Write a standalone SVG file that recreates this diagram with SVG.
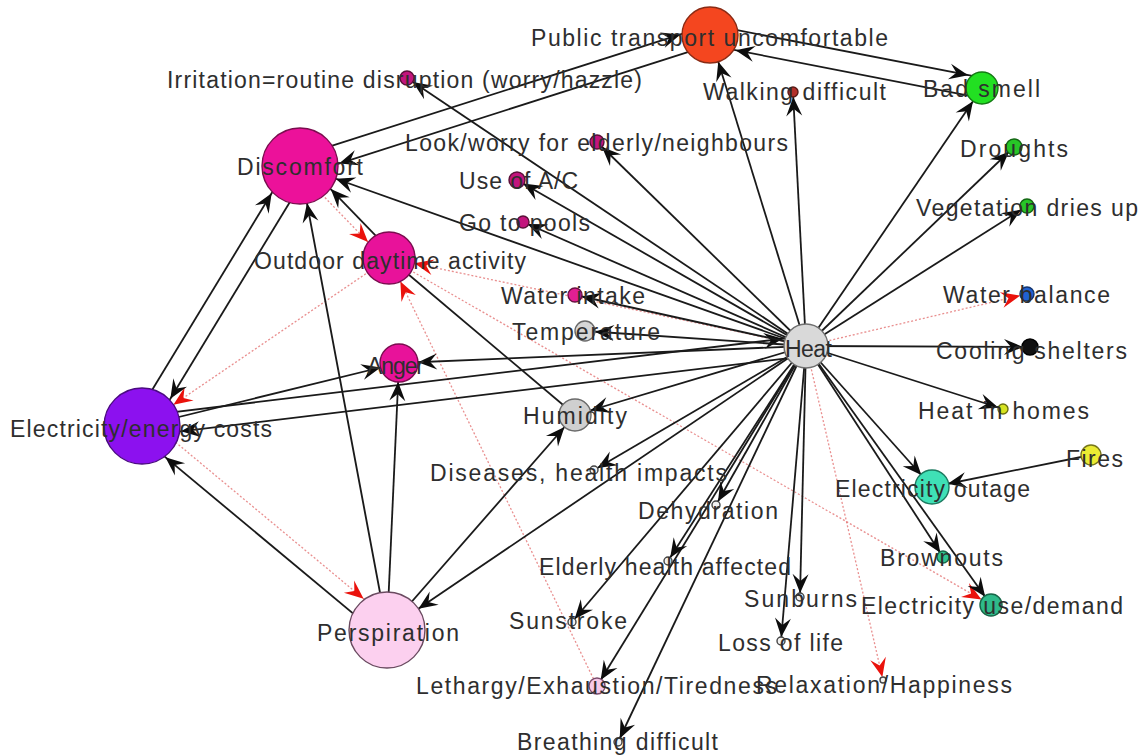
<svg xmlns="http://www.w3.org/2000/svg" width="1139" height="755" viewBox="0 0 1139 755">
<style>
  .e{stroke:#1a1a1a;stroke-width:1.8;fill:none}
  .r{stroke:#e06060;stroke-width:1.3;stroke-dasharray:2 2;fill:none;stroke-opacity:.7}
  .ak{fill:#0d0d0d}
  .ar{fill:#ea120c}
  .n{stroke-width:1.4}
  text{font-family:"Liberation Sans",Arial,sans-serif;font-size:23px;fill:#2e2e2e}
</style>
<defs>
  <!-- arrowheads: tip pulled back by the target node radius -->
  <marker id="k4" markerUnits="userSpaceOnUse" orient="auto" refX="0" refY="0" markerWidth="1" markerHeight="1" overflow="visible" style="overflow:visible"><path class="ak" d="M-4,0 l-19,-8 l7,8 l-7,8z"/></marker>
  <marker id="k5" markerUnits="userSpaceOnUse" orient="auto" refX="0" refY="0" markerWidth="1" markerHeight="1" overflow="visible" style="overflow:visible"><path class="ak" d="M-5,0 l-19,-8 l7,8 l-7,8z"/></marker>
  <marker id="k7" markerUnits="userSpaceOnUse" orient="auto" refX="0" refY="0" markerWidth="1" markerHeight="1" overflow="visible" style="overflow:visible"><path class="ak" d="M-7,0 l-19,-8 l7,8 l-7,8z"/></marker>
  <marker id="k10" markerUnits="userSpaceOnUse" orient="auto" refX="0" refY="0" markerWidth="1" markerHeight="1" overflow="visible" style="overflow:visible"><path class="ak" d="M-10,0 l-19,-8 l7,8 l-7,8z"/></marker>
  <marker id="k16" markerUnits="userSpaceOnUse" orient="auto" refX="0" refY="0" markerWidth="1" markerHeight="1" overflow="visible" style="overflow:visible"><path class="ak" d="M-16,0 l-19,-8 l7,8 l-7,8z"/></marker>
  <marker id="k19" markerUnits="userSpaceOnUse" orient="auto" refX="0" refY="0" markerWidth="1" markerHeight="1" overflow="visible" style="overflow:visible"><path class="ak" d="M-19,0 l-19,-8 l7,8 l-7,8z"/></marker>
  <marker id="k22" markerUnits="userSpaceOnUse" orient="auto" refX="0" refY="0" markerWidth="1" markerHeight="1" overflow="visible" style="overflow:visible"><path class="ak" d="M-22,0 l-19,-8 l7,8 l-7,8z"/></marker>
  <marker id="k28" markerUnits="userSpaceOnUse" orient="auto" refX="0" refY="0" markerWidth="1" markerHeight="1" overflow="visible" style="overflow:visible"><path class="ak" d="M-28,0 l-19,-8 l7,8 l-7,8z"/></marker>
  <marker id="k38" markerUnits="userSpaceOnUse" orient="auto" refX="0" refY="0" markerWidth="1" markerHeight="1" overflow="visible" style="overflow:visible"><path class="ak" d="M-38,0 l-19,-8 l7,8 l-7,8z"/></marker>
  <marker id="r3" markerUnits="userSpaceOnUse" orient="auto" refX="0" refY="0" markerWidth="1" markerHeight="1" overflow="visible" style="overflow:visible"><path class="ar" d="M-3,0 l-19,-8 l7,8 l-7,8z"/></marker>
  <marker id="r7" markerUnits="userSpaceOnUse" orient="auto" refX="0" refY="0" markerWidth="1" markerHeight="1" overflow="visible" style="overflow:visible"><path class="ar" d="M-7,0 l-19,-8 l7,8 l-7,8z"/></marker>
  <marker id="r11" markerUnits="userSpaceOnUse" orient="auto" refX="0" refY="0" markerWidth="1" markerHeight="1" overflow="visible" style="overflow:visible"><path class="ar" d="M-11,0 l-19,-8 l7,8 l-7,8z"/></marker>
  <marker id="r26" markerUnits="userSpaceOnUse" orient="auto" refX="0" refY="0" markerWidth="1" markerHeight="1" overflow="visible" style="overflow:visible"><path class="ar" d="M-26,0 l-19,-8 l7,8 l-7,8z"/></marker>
  <marker id="r38" markerUnits="userSpaceOnUse" orient="auto" refX="0" refY="0" markerWidth="1" markerHeight="1" overflow="visible" style="overflow:visible"><path class="ar" d="M-38,0 l-19,-8 l7,8 l-7,8z"/></marker>
</defs>
<rect width="1139" height="755" fill="#fff"/>

<g id="connectors">
  <!-- dotted red links -->
  <line class="r" x1="806" y1="346" x2="1027" y2="294" marker-end="url(#r7)"/>
  <line class="r" x1="806" y1="346" x2="389" y2="258" marker-end="url(#r26)"/>
  <line class="r" x1="806" y1="346" x2="883" y2="680" marker-end="url(#r3)"/>
  <line class="r" x1="389" y1="258" x2="991" y2="605" marker-end="url(#r11)"/>
  <line class="r" x1="389" y1="258" x2="142" y2="426" marker-end="url(#r38)"/>
  <line class="r" x1="597" y1="686" x2="389" y2="258" marker-end="url(#r26)"/>
  <line class="r" x1="147.8" y1="419.1" x2="392.8" y2="623.1" marker-end="url(#r38)"/>
  <line class="r" x1="297.1" y1="168.8" x2="386.1" y2="260.8" marker-end="url(#r26)"/>

  <!-- paired links drawn side by side -->
  <line class="e" x1="297.1" y1="156.9" x2="707.1" y2="25.9" marker-end="url(#k28)"/>
  <line class="e" x1="712.9" y1="44.1" x2="302.9" y2="175.1" marker-end="url(#k38)"/>
  <line class="e" x1="711.9" y1="25.2" x2="983.9" y2="78.2" marker-end="url(#k16)"/>
  <line class="e" x1="980.1" y1="97.8" x2="708.1" y2="44.8" marker-end="url(#k28)"/>
  <line class="e" x1="308.6" y1="171.2" x2="150.6" y2="431.2" marker-end="url(#k38)"/>
  <line class="e" x1="133.4" y1="420.8" x2="291.4" y2="160.8" marker-end="url(#k38)"/>
  <line class="e" x1="140.8" y1="416.1" x2="804.8" y2="336.1" marker-end="url(#k22)"/>
  <line class="e" x1="807.2" y1="355.9" x2="143.2" y2="435.9" marker-end="url(#k38)"/>
  <line class="e" x1="381.2" y1="636.9" x2="136.2" y2="432.9" marker-end="url(#k38)"/>
  <line class="e" x1="393.3" y1="253.8" x2="304.3" y2="161.8" marker-end="url(#k38)"/>

  <!-- links out of Heat -->
  <line class="e" x1="806" y1="346" x2="710" y2="35" marker-end="url(#k28)"/>
  <line class="e" x1="806" y1="346" x2="793" y2="92" marker-end="url(#k5)"/>
  <line class="e" x1="806" y1="346" x2="982" y2="88" marker-end="url(#k16)"/>
  <line class="e" x1="806" y1="346" x2="1014" y2="147" marker-end="url(#k7)"/>
  <line class="e" x1="806" y1="346" x2="1027" y2="206" marker-end="url(#k7)"/>
  <line class="e" x1="806" y1="346" x2="1030" y2="347" marker-end="url(#k7)"/>
  <line class="e" x1="806" y1="346" x2="1003" y2="409" marker-end="url(#k5)"/>
  <line class="e" x1="806" y1="346" x2="932" y2="487" marker-end="url(#k16)"/>
  <line class="e" x1="806" y1="346" x2="943" y2="557" marker-end="url(#k5)"/>
  <line class="e" x1="806" y1="346" x2="991" y2="605" marker-end="url(#k10)"/>
  <line class="e" x1="806" y1="346" x2="800" y2="597" marker-end="url(#k4)"/>
  <line class="e" x1="806" y1="346" x2="781" y2="641" marker-end="url(#k4)"/>
  <line class="e" x1="806" y1="346" x2="618" y2="742" marker-end="url(#k4)"/>
  <line class="e" x1="806" y1="346" x2="597" y2="686" marker-end="url(#k7)"/>
  <line class="e" x1="806" y1="346" x2="572" y2="622" marker-end="url(#k4)"/>
  <line class="e" x1="806" y1="346" x2="668" y2="561" marker-end="url(#k4)"/>
  <line class="e" x1="806" y1="346" x2="716" y2="505" marker-end="url(#k4)"/>
  <line class="e" x1="806" y1="346" x2="594" y2="470" marker-end="url(#k4)"/>
  <line class="e" x1="806" y1="346" x2="387" y2="630" marker-end="url(#k38)"/>
  <line class="e" x1="806" y1="346" x2="575" y2="415" marker-end="url(#k16)"/>
  <line class="e" x1="806" y1="346" x2="585" y2="331" marker-end="url(#k10)"/>
  <line class="e" x1="806" y1="346" x2="575" y2="295" marker-end="url(#k7)"/>
  <line class="e" x1="806" y1="346" x2="523" y2="222" marker-end="url(#k5)"/>
  <line class="e" x1="806" y1="346" x2="517" y2="180" marker-end="url(#k7)"/>
  <line class="e" x1="806" y1="346" x2="597" y2="142" marker-end="url(#k7)"/>
  <line class="e" x1="806" y1="346" x2="407" y2="78" marker-end="url(#k7)"/>
  <line class="e" x1="806" y1="346" x2="300" y2="166" marker-end="url(#k38)"/>
  <line class="e" x1="806" y1="346" x2="399" y2="363" marker-end="url(#k19)"/>

  <!-- remaining links -->
  <line class="e" x1="142" y1="426" x2="399" y2="363" marker-end="url(#k19)"/>
  <line class="e" x1="387" y1="630" x2="300" y2="166" marker-end="url(#k38)"/>
  <line class="e" x1="387" y1="630" x2="399" y2="363" marker-end="url(#k19)"/>
  <line class="e" x1="387" y1="630" x2="575" y2="415" marker-end="url(#k16)"/>
  <line class="e" x1="575" y1="415" x2="389" y2="258"/>
  <line class="e" x1="1091" y1="455" x2="932" y2="487" marker-end="url(#k16)"/>
</g>

<g id="n-public-transport"><circle class="n" cx="710" cy="35" r="28" fill="#f4461f" stroke="#8a2a14"/><text x="531" y="46" textLength="357" lengthAdjust="spacing">Public transport uncomfortable</text></g>
<g id="n-irritation"><circle class="n" cx="407" cy="78" r="7" fill="#c3147d" stroke="#5a1038"/><text x="167" y="88" textLength="475" lengthAdjust="spacing">Irritation=routine disruption (worry/hazzle)</text></g>
<g id="n-walking"><circle class="n" cx="793" cy="92" r="5" fill="#b3302a" stroke="#5a1a16"/><text x="703" y="100" textLength="183" lengthAdjust="spacing">Walking difficult</text></g>
<g id="n-bad-smell"><circle class="n" cx="982" cy="88" r="16" fill="#22e022" stroke="#137a13"/><text x="923" y="97" textLength="117" lengthAdjust="spacing">Bad smell</text></g>
<g id="n-droughts"><circle class="n" cx="1014" cy="147" r="8" fill="#27c627" stroke="#136613"/><text x="960" y="157" textLength="108" lengthAdjust="spacing">Droughts</text></g>
<g id="n-vegetation"><circle class="n" cx="1027" cy="206" r="7" fill="#27c627" stroke="#136613"/><text x="916" y="216" textLength="222" lengthAdjust="spacing">Vegetation dries up</text></g>
<g id="n-water-balance"><circle class="n" cx="1027" cy="294" r="7" fill="#2062d2" stroke="#12346e"/><text x="943" y="303" textLength="167" lengthAdjust="spacing">Water balance</text></g>
<g id="n-cooling"><circle class="n" cx="1030" cy="347" r="8" fill="#111" stroke="#000"/><text x="936" y="359" textLength="191" lengthAdjust="spacing">Cooling shelters</text></g>
<g id="n-heat-homes"><circle class="n" cx="1003" cy="409" r="5" fill="#d6e222" stroke="#6a7010"/><text x="918" y="419" textLength="171" lengthAdjust="spacing">Heat in homes</text></g>
<g id="n-fires"><circle class="n" cx="1091" cy="455" r="10" fill="#ebeb33" stroke="#77771a"/><text x="1066" y="467" textLength="57" lengthAdjust="spacing">Fires</text></g>
<g id="n-outage"><circle class="n" cx="932" cy="487" r="17" fill="#3fe0b6" stroke="#1d7a60"/><text x="835" y="497" textLength="195" lengthAdjust="spacing">Electricity outage</text></g>
<g id="n-brownouts"><circle class="n" cx="943" cy="557" r="6" fill="#2fc48f" stroke="#176648"/><text x="880" y="566" textLength="123" lengthAdjust="spacing">Brownouts</text></g>
<g id="n-elec-use"><circle class="n" cx="991" cy="605" r="11" fill="#2fba8a" stroke="#176648"/><text x="861" y="614" textLength="262" lengthAdjust="spacing">Electricity use/demand</text></g>
<g id="n-relaxation"><circle class="n" cx="883" cy="680" r="3" fill="#f2f2f2" stroke="#444"/><text x="756" y="693" textLength="256" lengthAdjust="spacing">Relaxation/Happiness</text></g>
<g id="n-loss-life"><circle class="n" cx="781" cy="641" r="4" fill="#f2f2f2" stroke="#444"/><text x="718" y="651" textLength="125" lengthAdjust="spacing">Loss of life</text></g>
<g id="n-sunburns"><circle class="n" cx="800" cy="597" r="4" fill="#f2f2f2" stroke="#444"/><text x="744" y="607" textLength="113" lengthAdjust="spacing">Sunburns</text></g>
<g id="n-breathing"><circle class="n" cx="618" cy="742" r="4" fill="#f2f2f2" stroke="#444"/><text x="517" y="750" textLength="201" lengthAdjust="spacing">Breathing difficult</text></g>
<g id="n-lethargy"><circle class="n" cx="597" cy="686" r="8" fill="#f7c8e8" stroke="#7a4a6a"/><text x="416" y="694" textLength="361" lengthAdjust="spacing">Lethargy/Exhaustion/Tiredness</text></g>
<g id="n-sunstroke"><circle class="n" cx="572" cy="622" r="4" fill="#f2f2f2" stroke="#444"/><text x="509" y="629" textLength="118" lengthAdjust="spacing">Sunstroke</text></g>
<g id="n-elderly"><circle class="n" cx="668" cy="561" r="4" fill="#f2f2f2" stroke="#444"/><text x="539" y="575" textLength="252" lengthAdjust="spacing">Elderly health affected</text></g>
<g id="n-dehydration"><circle class="n" cx="716" cy="505" r="4" fill="#f2f2f2" stroke="#444"/><text x="638" y="519" textLength="140" lengthAdjust="spacing">Dehydration</text></g>
<g id="n-diseases"><circle class="n" cx="594" cy="470" r="4" fill="#f2f2f2" stroke="#444"/><text x="430" y="481" textLength="297" lengthAdjust="spacing">Diseases, health impacts</text></g>
<g id="n-humidity"><circle class="n" cx="575" cy="415" r="16" fill="#cfcfcf" stroke="#6a6a6a"/><text x="523" y="424" textLength="104" lengthAdjust="spacing">Humidity</text></g>
<g id="n-temperature"><circle class="n" cx="585" cy="331" r="10" fill="#d6d6d6" stroke="#6a6a6a"/><text x="512" y="340" textLength="148" lengthAdjust="spacing">Temperature</text></g>
<g id="n-water-intake"><circle class="n" cx="575" cy="295" r="7" fill="#e01f92" stroke="#6a1040"/><text x="501" y="304" textLength="144" lengthAdjust="spacing">Water intake</text></g>
<g id="n-pools"><circle class="n" cx="523" cy="222" r="6" fill="#c3147d" stroke="#5a1038"/><text x="459" y="231" textLength="131" lengthAdjust="spacing">Go to pools</text></g>
<g id="n-ac"><circle class="n" cx="517" cy="180" r="8" fill="#c3147d" stroke="#5a1038"/><text x="459" y="189" textLength="119" lengthAdjust="spacing">Use of A/C</text></g>
<g id="n-look-worry"><circle class="n" cx="597" cy="142" r="7" fill="#c3147d" stroke="#5a1038"/><text x="405" y="151" textLength="383" lengthAdjust="spacing">Look/worry for elderly/neighbours</text></g>
<g id="n-discomfort"><circle class="n" cx="300" cy="166" r="38" fill="#ec119a" stroke="#7a0c4e"/><text x="237" y="175" textLength="126" lengthAdjust="spacing">Discomfort</text></g>
<g id="n-outdoor"><circle class="n" cx="389" cy="258" r="26" fill="#e8129a" stroke="#7a0c4e"/><text x="254" y="269" textLength="272" lengthAdjust="spacing">Outdoor daytime activity</text></g>
<g id="n-anger"><circle class="n" cx="399" cy="363" r="19" fill="#e8129a" stroke="#7a0c4e"/><text x="367" y="374" textLength="57" lengthAdjust="spacing">Anger</text></g>
<g id="n-elec-costs"><circle class="n" cx="142" cy="426" r="38" fill="#8c11ef" stroke="#4a0a80"/><text x="10" y="437" textLength="262" lengthAdjust="spacing">Electricity/energy costs</text></g>
<g id="n-perspiration"><circle class="n" cx="387" cy="630" r="38" fill="#fcd0ef" stroke="#6a4a60"/><text x="317" y="641" textLength="142" lengthAdjust="spacing">Perspiration</text></g>
<g id="n-heat"><circle class="n" cx="806" cy="346" r="22" fill="#d9d9d9" stroke="#707070"/><text x="785" y="357" textLength="47" lengthAdjust="spacing">Heat</text></g>
</svg>
